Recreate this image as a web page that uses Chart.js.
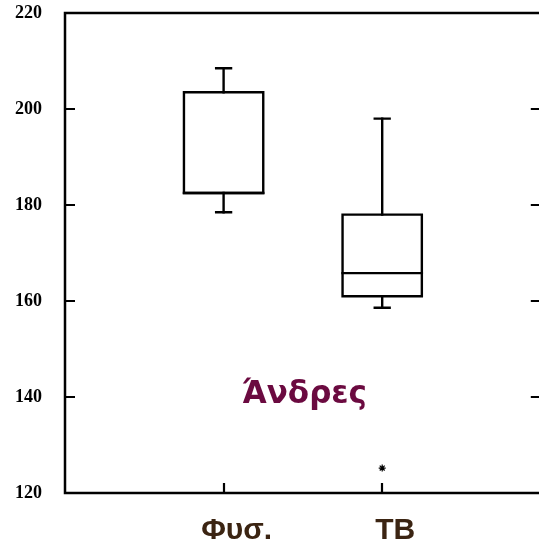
<!DOCTYPE html>
<html>
<head>
<meta charset="utf-8">
<script src="https://cdn.jsdelivr.net/npm/chart.js@4/dist/chart.umd.min.js"></script>
<style>
  html, body { margin: 0; padding: 0; background: #fff; overflow: hidden; }
  #wrap { width: 546px; height: 548px; }
</style>
</head>
<body>
<div id="wrap"><canvas id="myChart" width="546" height="548"></canvas></div>
<script>
// data
var groups = ["Φυσ.", "ΤΒ"];
var groupX = [1, 2];
var whiskerLow = [178.5, 158.6];
var q1 = [182.5, 161.0];
var median = [182.5, 165.8];
var q3 = [203.5, 178.0];
var whiskerHigh = [208.5, 198.0];
var outliers = [[], [125.2]];
var yTicks = [120, 140, 160, 180, 200, 220];
var note = "Άνδρες";

var boxHalf = 0.25;   // half box width, in x units
var capHalf = 0.047;  // half whisker cap width

function lineSet(points) {
  return {
    type: "line",
    data: points,
    borderColor: "#000",
    borderWidth: 2.4,
    pointRadius: 0,
    fill: false,
    tension: 0,
    borderCapStyle: "square",
    borderJoinStyle: "miter"
  };
}

function buildDatasets() {
  var sets = [];
  for (var i = 0; i < groups.length; i++) {
    var x = groupX[i];
    // box
    sets.push(lineSet([
      { x: x - boxHalf, y: q1[i] }, { x: x + boxHalf, y: q1[i] },
      { x: x + boxHalf, y: q3[i] }, { x: x - boxHalf, y: q3[i] },
      { x: x - boxHalf, y: q1[i] }
    ]));
    // median
    sets.push(lineSet([{ x: x - boxHalf, y: median[i] }, { x: x + boxHalf, y: median[i] }]));
    // whiskers
    sets.push(lineSet([{ x: x, y: q3[i] }, { x: x, y: whiskerHigh[i] }]));
    sets.push(lineSet([{ x: x, y: q1[i] }, { x: x, y: whiskerLow[i] }]));
    // caps
    sets.push(lineSet([{ x: x - capHalf, y: whiskerHigh[i] }, { x: x + capHalf, y: whiskerHigh[i] }]));
    sets.push(lineSet([{ x: x - capHalf, y: whiskerLow[i] }, { x: x + capHalf, y: whiskerLow[i] }]));
    // outliers
    if (outliers[i].length) {
      sets.push({
        type: "scatter",
        data: outliers[i].map(function(v) { return { x: x, y: v }; }),
        pointStyle: "star",
        radius: 3.5,
        borderColor: "#000",
        borderWidth: 1.2,
        backgroundColor: "#000"
      });
    }
  }
  return sets;
}

// frame, inward ticks and the note
var framePlugin = {
  id: "frame",
  afterDraw: function(chart) {
    var ctx = chart.ctx;
    var a = chart.chartArea;
    var xs = chart.scales.x, ys = chart.scales.y;
    ctx.save();
    ctx.strokeStyle = "#000";
    ctx.lineWidth = 2.5;
    ctx.lineCap = "square";
    ctx.beginPath();
    ctx.moveTo(a.left, a.top); ctx.lineTo(a.right, a.top);
    ctx.lineTo(a.right, a.bottom); ctx.lineTo(a.left, a.bottom);
    ctx.closePath();
    ctx.stroke();

    ctx.lineWidth = 2.2;
    ctx.lineCap = "butt";
    ctx.beginPath();
    yTicks.forEach(function(v) {
      var py = Math.round(ys.getPixelForValue(v));
      ctx.moveTo(a.left, py); ctx.lineTo(a.left + 10, py);
      ctx.moveTo(a.right, py); ctx.lineTo(a.right - 10, py);
    });
    groupX.forEach(function(v) {
      var px = Math.round(xs.getPixelForValue(v));
      ctx.moveTo(px, a.bottom); ctx.lineTo(px, a.bottom - 10);
    });
    ctx.stroke();

    ctx.fillStyle = "#6b0a40";
    ctx.font = "bold 31px 'DejaVu Sans', 'Liberation Sans', sans-serif";
    ctx.textAlign = "center";
    ctx.textBaseline = "alphabetic";
    ctx.fillText(note, xs.getPixelForValue(1.51), ys.getPixelForValue(138.8));
    ctx.restore();
  }
};

function init() {
  var ctx = document.getElementById("myChart").getContext("2d");
  var chart = new Chart(ctx, {
    type: "scatter",
    data: { datasets: buildDatasets() },
    plugins: [framePlugin],
    options: {
      responsive: false,
      animation: false,
      layout: { padding: { left: 0, top: 13, right: 0, bottom: 0 } },
      plugins: { legend: { display: false }, tooltip: { enabled: false } },
      scales: {
        x: {
          type: "linear",
          min: 0,
          max: 3,
          grid: { display: false, drawTicks: false },
          border: { display: false },
          afterBuildTicks: function(scale) {
            scale.ticks = groupX.map(function(v) { return { value: v }; });
          },
          afterFit: function(scale) {
            scale.height = 55;
            scale.paddingLeft = 0;
            scale.paddingRight = 0;
          },
          ticks: {
            padding: 20,
            labelOffset: 13,
            color: "#3b2412",
            font: { family: "'Liberation Sans', Arial, sans-serif", size: 30, weight: "bold" },
            callback: function(value) {
              var k = groupX.indexOf(value);
              return k >= 0 ? groups[k] : "";
            }
          }
        },
        y: {
          min: 120,
          max: 220,
          grid: { display: false, drawTicks: false },
          border: { display: false },
          afterBuildTicks: function(scale) {
            scale.ticks = yTicks.map(function(v) { return { value: v }; });
          },
          afterFit: function(scale) {
            scale.width = 65;
            scale.paddingTop = 0;
            scale.paddingBottom = 0;
          },
          ticks: {
            padding: 23,
            color: "#000",
            font: { family: "'Liberation Serif', 'Times New Roman', serif", size: 18, weight: "bold" }
          }
        }
      }
    }
  });
}

init();
</script>
</body>
</html>
